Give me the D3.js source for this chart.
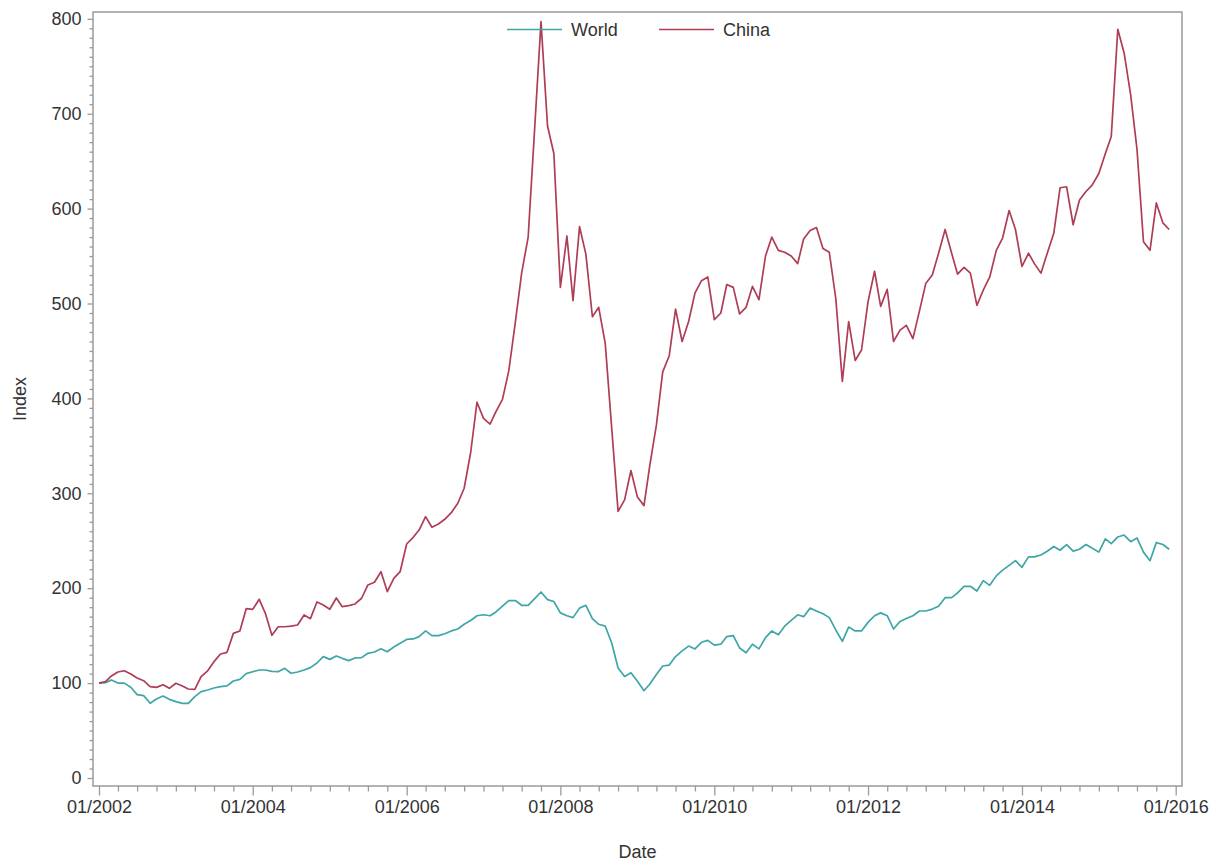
<!DOCTYPE html>
<html>
<head>
<meta charset="utf-8">
<script src="https://cdn.jsdelivr.net/npm/d3@7"></script>
<style>
  html, body { margin: 0; padding: 0; background: #fff; }
  svg { display: block; font-family: "Liberation Sans", Arial, sans-serif; }
</style>
</head>
<body>
<svg id="chart" width="1219" height="865"></svg>
<script>
// Monthly index levels, Jan 2002 = 100, Jan 2002 through Dec 2015
const firstMonth = new Date(2002, 0, 1);
const seriesNames = ["World", "China"];
const seriesColors = ["#3fa6a6", "#ae3d55"];

const worldIndex = [
  100, 100.5, 103.3, 100, 100, 95.6, 87.9, 86.8, 78.7, 83.3, 86.4, 82.9,
  80.5, 78.7, 78.7, 85.7, 91, 92.7, 94.8, 96.2, 97, 102.2, 104, 110,
  112, 113.8, 113.8, 112.4, 112, 115.6, 110.4, 111.7, 113.8, 116.3, 121.2, 127.9,
  125, 128.6, 126.1, 123.7, 126.5, 126.8, 131.4, 132.8, 136.3, 133.1, 138.1, 142,
  146, 146.5, 149, 155, 150, 150, 152, 155, 157, 162, 166, 171,
  172, 171, 175, 181, 187, 187, 182, 182, 189, 196, 188, 186,
  174, 171, 169, 179, 182, 168, 162, 160, 142, 116, 107, 111,
  102, 92, 99, 109, 118, 119, 128, 134, 139, 136, 143, 145,
  140, 141, 149, 150, 137, 132, 141, 136, 148, 155, 151, 160,
  166, 172, 170, 179, 176, 173, 169, 156, 144, 159, 155, 155,
  164, 171, 174, 171, 157, 165, 168, 171, 176, 176, 178, 181,
  190, 190, 195, 202, 202, 197, 208, 203, 213, 219, 224, 229,
  222, 233, 233, 235, 239, 244, 240, 246, 239, 241, 246, 242,
  238, 252, 247, 254, 256, 249, 253, 238, 229, 248, 246, 241
];

const chinaIndex = [
  100, 101.5, 107.5, 111.7, 113, 109.6, 105.4, 102.5, 96.2, 95.5, 98.3, 94.5,
  99.8, 96.9, 93.8, 93.4, 106.8, 113, 122.6, 130.7, 132.4, 152.4, 154.9, 178.4,
  177.7, 188.3, 173.5, 150.3, 159.4, 159.4, 160, 161.2, 171.8, 167.9, 185.5, 182.3,
  177.8, 189.7, 180.5, 181.6, 183.4, 189.4, 203.4, 206.2, 217.4, 196.4, 210.4, 217.4,
  246.6, 253.6, 261.3, 275.4, 264.2, 267.6, 272.6, 279.6, 289.5, 305.3, 343, 396,
  379, 373, 386, 399, 429, 480, 532, 570, 685, 797, 687, 658,
  517, 571, 503, 581, 552, 486, 496, 458, 368, 281, 293, 324,
  296, 287, 330, 372, 428, 445, 494, 460, 481, 511, 524, 528,
  483, 490, 520, 517, 489, 496, 518, 504, 550, 570, 556, 554,
  550, 542, 568, 577, 580, 558, 554, 505, 418, 481, 440, 451,
  502, 534, 497, 515, 460, 472, 477, 463, 492, 521, 530, 553,
  578, 553, 531, 538, 532, 498, 514, 528, 556, 569, 598, 578,
  539, 553, 542, 532, 553, 574, 622, 623, 583, 609, 618, 625,
  637, 658, 676, 789, 764, 720, 663, 565, 556, 606, 585, 578
];

const yTickValues = [0, 100, 200, 300, 400, 500, 600, 700, 800];
const xTickYears = [2002, 2004, 2006, 2008, 2010, 2012, 2014, 2016];

// Layout
const frame = { left: 93, top: 12, right: 1182, bottom: 786 };
const axisColor = "#9a9a9a";
const textColor = "#333333";
const fontSize = 18;

const svg = d3.select("#chart");

const months = d3.timeMonth.range(firstMonth, d3.timeMonth.offset(firstMonth, worldIndex.length));

const x = d3.scaleTime()
  .domain([new Date(2002, 0, 1), new Date(2016, 0, 1)])
  .range([99, 1175.7]);

const y = d3.scaleLinear()
  .domain([0, 800])
  .range([778, 18.8]);

// Frame around the plot area
svg.append("rect")
  .attr("x", frame.left).attr("y", frame.top)
  .attr("width", frame.right - frame.left)
  .attr("height", frame.bottom - frame.top)
  .attr("fill", "none")
  .attr("stroke", axisColor)
  .attr("stroke-width", 1.5);

// Y axis: minor ticks every 10, labelled ticks every 100
const yMinor = d3.range(0, 801, 10).filter(v => v % 100 !== 0);
const yAxisMinor = d3.axisLeft(y).tickValues(yMinor).tickSize(3.5).tickFormat("");
const yAxisMajor = d3.axisLeft(y).tickValues(yTickValues).tickSize(5.5).tickPadding(6).tickFormat(d3.format("d"));

function styleAxis(g) {
  g.select(".domain").remove();
  g.selectAll(".tick line").attr("stroke", axisColor).attr("stroke-width", 1.3);
  g.selectAll(".tick text")
    .attr("fill", textColor)
    .style("font-size", fontSize + "px")
    .style("font-family", "'Liberation Sans', Arial, sans-serif");
}

svg.append("g").attr("transform", `translate(${frame.left},0)`).call(yAxisMinor).call(styleAxis);
svg.append("g").attr("transform", `translate(${frame.left},0)`).call(yAxisMajor).call(styleAxis);

// X axis: quarterly minor ticks, labelled ticks every two years
const xMajorDates = xTickYears.map(yr => new Date(yr, 0, 1));
const xMinorDates = d3.timeMonth.every(3).range(new Date(2002, 0, 1), new Date(2016, 0, 2))
  .filter(d => !(d.getMonth() === 0 && d.getFullYear() % 2 === 0));
const xAxisMinor = d3.axisBottom(x).tickValues(xMinorDates).tickSize(5.5).tickFormat("");
const xAxisMajor = d3.axisBottom(x).tickValues(xMajorDates).tickSize(9.5).tickPadding(5)
  .tickFormat(d3.timeFormat("%m/%Y"));

svg.append("g").attr("transform", `translate(0,${frame.bottom})`).call(xAxisMinor).call(styleAxis);
svg.append("g").attr("transform", `translate(0,${frame.bottom})`).call(xAxisMajor).call(styleAxis);

// Axis titles
svg.append("text")
  .attr("x", (frame.left + frame.right) / 2)
  .attr("y", 858)
  .attr("text-anchor", "middle")
  .attr("fill", textColor)
  .style("font-size", fontSize + "px")
  .text("Date");

svg.append("text")
  .attr("transform", `translate(26,${(frame.top + frame.bottom) / 2}) rotate(-90)`)
  .attr("text-anchor", "middle")
  .attr("fill", textColor)
  .style("font-size", fontSize + "px")
  .text("Index");

// Series lines
const line = d3.line()
  .x((d, i) => x(months[i]))
  .y(d => y(d));

[worldIndex, chinaIndex].forEach((values, k) => {
  svg.append("path")
    .datum(values)
    .attr("fill", "none")
    .attr("stroke", seriesColors[k])
    .attr("stroke-width", 1.7)
    .attr("stroke-linejoin", "round")
    .attr("d", line);
});

// Legend inside the top of the plot
const legendItems = [
  { name: seriesNames[0], color: seriesColors[0], x0: 507 },
  { name: seriesNames[1], color: seriesColors[1], x0: 659 }
];
const legend = svg.append("g");
legendItems.forEach(item => {
  legend.append("line")
    .attr("x1", item.x0).attr("x2", item.x0 + 55)
    .attr("y1", 29.5).attr("y2", 29.5)
    .attr("stroke", item.color)
    .attr("stroke-width", 1.7);
  legend.append("text")
    .attr("x", item.x0 + 64)
    .attr("y", 36)
    .attr("fill", textColor)
    .style("font-size", fontSize + "px")
    .text(item.name);
});
</script>
</body>
</html>
